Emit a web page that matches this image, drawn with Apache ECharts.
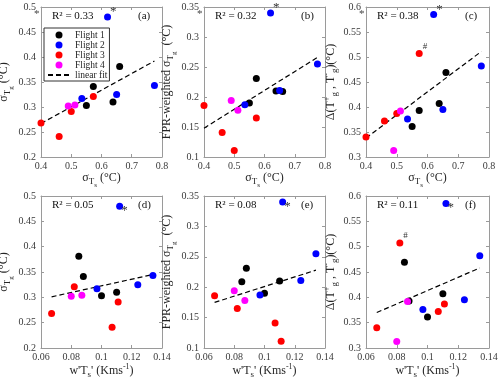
<!DOCTYPE html>
<html>
<head>
<meta charset="utf-8">
<script src="https://cdn.jsdelivr.net/npm/echarts@6/dist/echarts.min.js"></script>
<style>
  html, body { margin: 0; padding: 0; background: #fff; }
  #chart { width: 500px; height: 385px; }
</style>
</head>
<body>
<div id="chart"></div>
<script>
// Flight groups
const flightNames = ['Flight 1', 'Flight 2', 'Flight 3', 'Flight 4'];
const flightColors = ['#000000', '#0000ff', '#ff0000', '#ff00ff'];

// Per-flight values (same point order in every array)
const sigmaTs = [[0.550, 0.573, 0.638, 0.660], [0.620, 0.535, 0.650, 0.775], [0.400, 0.460, 0.500, 0.573], [0.490, 0.512]];
const wTs = [[0.100, 0.088, 0.110, 0.085], [0.112, 0.097, 0.124, 0.134], [0.067, 0.107, 0.111, 0.082], [0.080, 0.087]];
const sigmaTg = [[0.303, 0.341, 0.310, 0.381], [0.480, 0.317, 0.325, 0.343], [0.268, 0.241, 0.291, 0.321], [0.302, 0.304]];
const fprSigmaTg = [[0.190, 0.231, 0.210, 0.209], [0.340, 0.187, 0.211, 0.255], [0.186, 0.141, 0.111, 0.165], [0.194, 0.178]];
const deltaTg = [[0.361, 0.393, 0.407, 0.469], [0.585, 0.376, 0.395, 0.482], [0.340, 0.372, 0.387, 0.507], [0.313, 0.392]];

// Linear fit end points
const fitXsigma = [0.400, 0.775];
const fitXflux = [0.067, 0.134];
const fitA = [0.267, 0.392];
const fitB = [0.148, 0.266];
const fitC = [0.338, 0.511];
const fitD = [0.301, 0.345];
const fitE = [0.175, 0.228];
const fitF = [0.370, 0.458];

const r2Values = ['0.33', '0.32', '0.38', '0.05', '0.08', '0.11'];
const panelTags = ['(a)', '(b)', '(c)', '(d)', '(e)', '(f)'];

// marked points: [flight, index]
const starPoint = [1, 0];
const hashPoint = [2, 3];

const serif = 'Liberation Serif';
const txt = '#262626';
const frame = '#9a9a9a';

const rich = {
  m: { fontFamily: serif, fontSize: 12, color: txt },
  s: { fontFamily: serif, fontSize: 9, color: txt, padding: [8, 0, 0, 0] },
  ss: { fontFamily: serif, fontSize: 7, color: txt, padding: [15, 0, 0, 0] },
  p: { fontFamily: serif, fontSize: 8, color: txt, padding: [0, 0, 8, 0] }
};

const nameSigmaTs = '{m|σ}{s|T}{ss|s}{m| (°C)}';
const nameSigmaTg = '{m|σ}{s|T}{ss|g}{m| (°C)}';
const nameFpr = '{m|FPR-weighted σ}{s|T}{ss|g}{m|  (°C)}';
const nameDelta = '{m|Δ(T}{p|+}{s|g}{m| , T}{p|-}{s|g}{m|)(°C)}';
const nameFlux = "{m|w'T}{s|s}{m|' (Kms}{p|-1}{m|)}";

const panels = [
  { xs: sigmaTs, ys: sigmaTg, fx: fitXsigma, fy: fitA, xr: [0.4, 0.8, 0.1], yr: [0.2, 0.5, 0.05], xn: nameSigmaTs, yn: nameSigmaTg, row: 0, col: 0 },
  { xs: sigmaTs, ys: fprSigmaTg, fx: fitXsigma, fy: fitB, xr: [0.4, 0.8, 0.1], yr: [0.1, 0.35, 0.05], xn: nameSigmaTs, yn: nameFpr, row: 0, col: 1 },
  { xs: sigmaTs, ys: deltaTg, fx: fitXsigma, fy: fitC, xr: [0.4, 0.8, 0.1], yr: [0.3, 0.6, 0.05], xn: nameSigmaTs, yn: nameDelta, row: 0, col: 2, hash: true },
  { xs: wTs, ys: sigmaTg, fx: fitXflux, fy: fitD, xr: [0.06, 0.14, 0.02], yr: [0.2, 0.5, 0.05], xn: nameFlux, yn: nameSigmaTg, row: 1, col: 0 },
  { xs: wTs, ys: fprSigmaTg, fx: fitXflux, fy: fitE, xr: [0.06, 0.14, 0.02], yr: [0.1, 0.35, 0.05], xn: nameFlux, yn: nameFpr, row: 1, col: 1 },
  { xs: wTs, ys: deltaTg, fx: fitXflux, fy: fitF, xr: [0.06, 0.14, 0.02], yr: [0.3, 0.6, 0.05], xn: nameFlux, yn: nameDelta, row: 1, col: 2, hash: true }
];

const colLeft = [41, 204, 366];
const colWidth = [121, 121, 123];
const rowTop = [7, 196];
const rowHeight = [150, 152];

const grid = [], xAxis = [], yAxis = [], series = [], graphic = [];

panels.forEach((p, i) => {
  const left = colLeft[p.col], top = rowTop[p.row];
  const w = colWidth[p.col], h = rowHeight[p.row];
  grid.push({ left: left, top: top, width: w, height: h, containLabel: false, outerBoundsMode: 'none' });

  const axisBase = {
    type: 'value',
    gridIndex: i,
    axisLine: { show: true, onZero: false, lineStyle: { color: frame, width: 1 } },
    axisTick: { show: true, inside: true, length: 3, lineStyle: { color: frame } },
    splitLine: { show: false }
  };
  const xBase = Object.assign({}, axisBase, { min: p.xr[0], max: p.xr[1], interval: p.xr[2] });
  const yBase = Object.assign({}, axisBase, { min: p.yr[0], max: p.yr[1], interval: p.yr[2] });
  const lbl = { fontFamily: serif, fontSize: 10, color: '#3a3a3a' };

  xAxis.push(Object.assign({}, xBase, {
    position: 'bottom',
    axisLabel: Object.assign({ margin: 4 }, lbl),
    name: p.xn, nameLocation: 'middle', nameGap: p.row === 0 ? 9 : 11,
    nameTextStyle: { rich: rich }
  }));
  xAxis.push(Object.assign({}, xBase, { position: 'top', axisLabel: { show: false } }));
  yAxis.push(Object.assign({}, yBase, {
    position: 'left',
    axisLabel: Object.assign({ margin: 5 }, lbl),
    name: p.yn, nameLocation: 'middle', nameGap: 21,
    nameTextStyle: { rich: rich }
  }));
  yAxis.push(Object.assign({}, yBase, { position: 'right', axisLabel: { show: false } }));

  const xi = 2 * i, yi = 2 * i;
  flightNames.forEach((name, f) => {
    const data = p.xs[f].map((x, k) => {
      const item = { value: [x, p.ys[f][k]] };
      if (f === starPoint[0] && k === starPoint[1]) {
        item.label = {
          show: true, formatter: '*', fontFamily: serif, fontSize: 13, color: '#333',
          position: p.row === 0 ? [6, -8] : [5, 1]
        };
      }
      if (p.hash && f === hashPoint[0] && k === hashPoint[1]) {
        item.label = {
          show: true, formatter: '#', fontFamily: serif, fontSize: 9, color: '#333',
          position: [7, -8]
        };
      }
      return item;
    });
    series.push({
      name: name, type: 'scatter', xAxisIndex: xi, yAxisIndex: yi,
      symbol: 'circle', symbolSize: 7,
      itemStyle: { color: flightColors[f], opacity: 1 },
      data: data, z: 3
    });
  });
  series.push({
    name: 'linear fit', type: 'line', xAxisIndex: xi, yAxisIndex: yi,
    symbol: 'none', silent: true,
    itemStyle: { color: '#000' },
    lineStyle: { color: '#000', width: 1.2, type: [5, 3] },
    data: [[p.fx[0], p.fy[0]], [p.fx[1], p.fy[1]]], z: 2
  });

  graphic.push({
    type: 'text', left: left + 11, top: top + 4,
    style: { text: 'R² = ' + r2Values[i], font: '11px "Liberation Serif"', fill: '#111' }
  });
  graphic.push({
    type: 'text', left: left + w - 24, top: top + 4,
    style: { text: panelTags[i], font: '11px "Liberation Serif"', fill: '#111' }
  });
  if (p.row === 0) {
    graphic.push({
      type: 'text', left: left - 7, top: top + 2,
      style: { text: '*', font: '11px "Liberation Serif"', fill: '#444' }
    });
  }
});

const chart = echarts.init(document.getElementById('chart'), null, { renderer: 'canvas' });
chart.setOption({
  backgroundColor: '#ffffff',
  animation: false,
  grid: grid,
  xAxis: xAxis,
  yAxis: yAxis,
  legend: {
    data: flightNames.map(n => ({ name: n, icon: 'circle' }))
      .concat([{ name: 'linear fit', itemStyle: { opacity: 0 } }]),
    orient: 'vertical', left: 44, top: 28,
    itemWidth: 22, itemHeight: 7, itemGap: 0,
    padding: [2, 2, 1, 3],
    borderColor: '#333', borderWidth: 1, backgroundColor: '#fff',
    textStyle: { fontFamily: serif, fontSize: 9.5, color: txt, lineHeight: 9 }
  },
  graphic: graphic,
  series: series
});
</script>
</body>
</html>
